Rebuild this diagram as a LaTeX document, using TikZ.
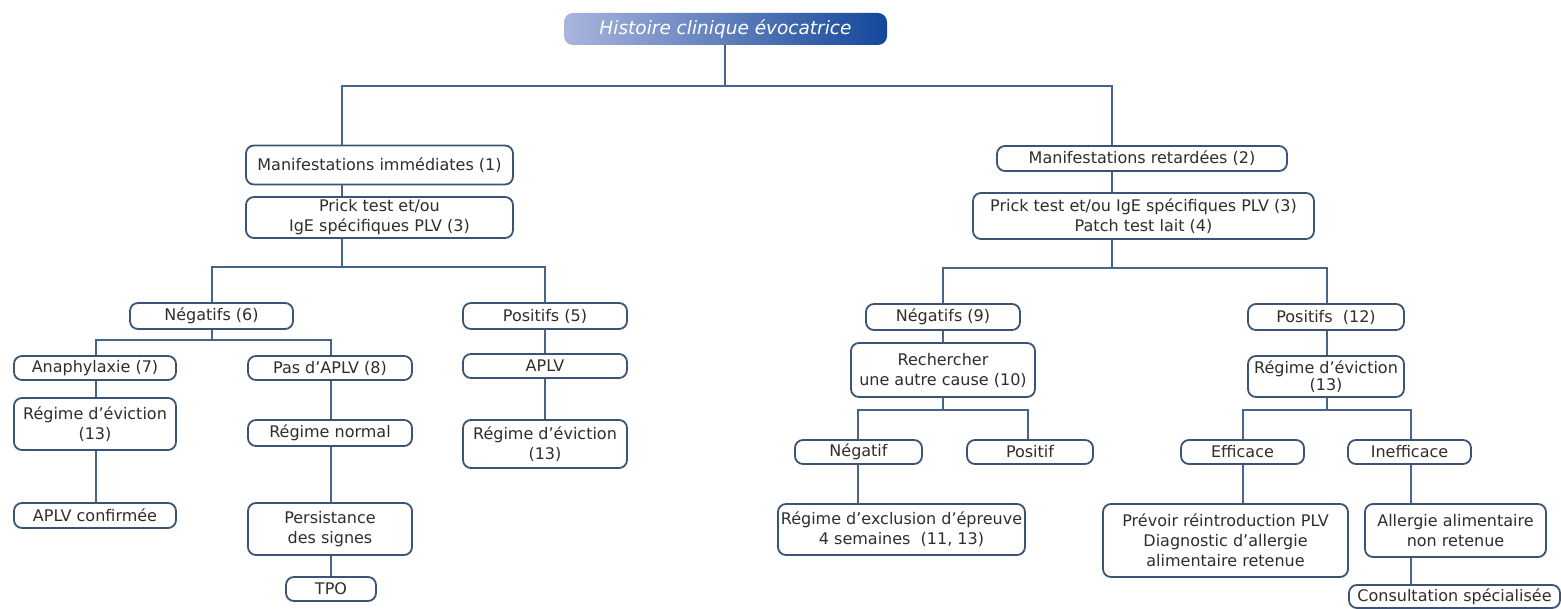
\documentclass[tikz,border=0pt]{standalone}
\usepackage{fontspec}
\setmainfont{DejaVu Sans}
\definecolor{boxc}{HTML}{3B5476}
\definecolor{linec}{HTML}{47648A}
\definecolor{txt}{HTML}{2E2E2E}
\definecolor{gradL}{HTML}{A9B5DD}
\definecolor{gradR}{HTML}{14479A}
\tikzset{
  box/.style={draw=boxc, line width=1.8pt, rounded corners=8pt, fill=white,
    text=txt, align=center, inner sep=0pt,
    font=\fontsize{16}{20}\selectfont},
  conn/.style={draw=linec, line width=2pt},
  topbox/.style={rounded corners=9pt, left color=gradL, right color=gradR,
    text=white, inner sep=0pt, font=\fontsize{18.5}{22}\selectfont\itshape},
}
\begin{document}
\begin{tikzpicture}[x=1pt,y=-1pt]
\useasboundingbox[fill=white] (0,0) rectangle (1561,609);

% ---------- nodes ----------
\node[topbox, minimum width=323, minimum height=32] (top) at (725.5,29) {Histoire clinique évocatrice};

% left branch
\node[box, minimum width=267, minimum height=39] (mi) at (379.5,165) {Manifestations immédiates (1)};
\node[box, minimum width=267, minimum height=41] (pl) at (379.5,217.5) {Prick test et/ou\\IgE spécifiques PLV (3)};
\node[box, minimum width=163, minimum height=26] (n6) at (211.5,316) {Négatifs (6)};
\node[box, minimum width=164, minimum height=26] (p5) at (545,316) {Positifs (5)};
\node[box, minimum width=162, minimum height=24] (ana) at (95,368) {Anaphylaxie (7)};
\node[box, minimum width=164, minimum height=24] (pas) at (330,368) {Pas d’APLV (8)};
\node[box, minimum width=162, minimum height=52] (rl) at (95,424) {Régime d’éviction\\(13)};
\node[box, minimum width=162, minimum height=25] (aplvc) at (95,515.5) {APLV confirmée};
\node[box, minimum width=164, minimum height=26] (rn) at (330,433) {Régime normal};
\node[box, minimum width=164, minimum height=52] (pers) at (330,529) {Persistance\\des signes};
\node[box, minimum width=90, minimum height=24] (tpo) at (331,589) {TPO};
\node[box, minimum width=164, minimum height=24] (aplv) at (545,366) {APLV};
\node[box, minimum width=164, minimum height=48] (rr5) at (545,444) {Régime d’éviction\\(13)};

% right branch
\node[box, minimum width=290, minimum height=25] (mr) at (1142,158.5) {Manifestations retardées (2)};
\node[box, minimum width=341, minimum height=46] (pr) at (1143.5,216) {Prick test et/ou IgE spécifiques PLV (3)\\Patch test lait (4)};
\node[box, minimum width=154, minimum height=26] (n9) at (943,317) {Négatifs (9)};
\node[box, minimum width=156, minimum height=26] (p12) at (1326,317) {Positifs\ \ (12)};
\node[box, minimum width=184, minimum height=54] (rech) at (943,370) {Rechercher\\une autre cause (10)};
\node[box, minimum width=127, minimum height=24] (neg) at (858.5,452) {Négatif};
\node[box, minimum width=126, minimum height=24] (pos) at (1030,452) {Positif};
\node[box, minimum width=247, minimum height=51] (rexc) at (901.5,529.5) {Régime d’exclusion d’épreuve\\4 semaines\ \ (11, 13)};
\node[box, minimum width=156, minimum height=41, font=\fontsize{16}{15}\selectfont] (rev12) at (1326,376.5) {Régime d’éviction\\(13)};
\node[box, minimum width=123, minimum height=24] (eff) at (1242.5,452) {Efficace};
\node[box, minimum width=123, minimum height=24] (ineff) at (1409.5,452) {Inefficace};
\node[box, minimum width=245, minimum height=73] (prev) at (1225.5,540.5) {Prévoir réintroduction PLV\\Diagnostic d’allergie\\alimentaire retenue};
\node[box, minimum width=181, minimum height=53] (allg) at (1455.5,530.5) {Allergie alimentaire\\non retenue};
\node[box, minimum width=211, minimum height=23] (cons) at (1454.5,596.5) {Consultation spécialisée};

% ---------- junction coordinates ----------
\coordinate (t0) at (725,86);
\coordinate (sL) at (342,86);
\coordinate (sR) at (1112,86);
\coordinate (jL) at (342,267);
\coordinate (jR) at (1112,268);
\coordinate (j6) at (212,340);
\coordinate (j10) at (943,410);
\coordinate (j13) at (1327,410);

% ---------- connectors ----------
\draw[conn] (top.south -| t0) -- (t0);
\draw[conn] (mi.north -| sL) -- (sL) -- (sR) -- (mr.north -| sR);
\draw[conn] (mi.south -| sL) -- (pl.north -| sL);
\draw[conn] (pl.south -| jL) -- (jL);
\draw[conn] (n6.north -| j6) |- (jL) -| (p5.north);
\draw[conn] (n6.south -| j6) -- (j6);
\draw[conn] (ana.north -| 96,0) |- (j6) -| (pas.north -| 331,0);
\draw[conn] (ana.south -| 96,0) -- (rl.north -| 96,0);
\draw[conn] (rl.south -| 96,0) -- (aplvc.north -| 96,0);
\draw[conn] (pas.south -| 331,0) -- (rn.north -| 331,0);
\draw[conn] (rn.south -| 331,0) -- (pers.north -| 331,0);
\draw[conn] (pers.south -| 331,0) -- (tpo.north -| 331,0);
\draw[conn] (p5.south) -- (aplv.north);
\draw[conn] (aplv.south) -- (rr5.north);

\draw[conn] (mr.south -| sR) -- (pr.north -| sR);
\draw[conn] (pr.south -| jR) -- (jR);
\draw[conn] (n9.north -| j10) |- (jR) -| (p12.north -| j13);
\draw[conn] (n9.south -| j10) -- (rech.north -| j10);
\draw[conn] (rech.south -| j10) -- (j10);
\draw[conn] (neg.north -| 858,0) |- (j10) -| (pos.north -| 1028,0);
\draw[conn] (neg.south -| 858,0) -- (rexc.north -| 858,0);
\draw[conn] (p12.south -| j13) -- (rev12.north -| j13);
\draw[conn] (rev12.south -| j13) -- (j13);
\draw[conn] (eff.north -| 1243,0) |- (j13) -| (ineff.north -| 1411,0);
\draw[conn] (eff.south -| 1243,0) -- (prev.north -| 1243,0);
\draw[conn] (ineff.south -| 1411,0) -- (allg.north -| 1411,0);
\draw[conn] (allg.south -| 1411,0) -- (cons.north -| 1411,0);
\end{tikzpicture}
\end{document}
